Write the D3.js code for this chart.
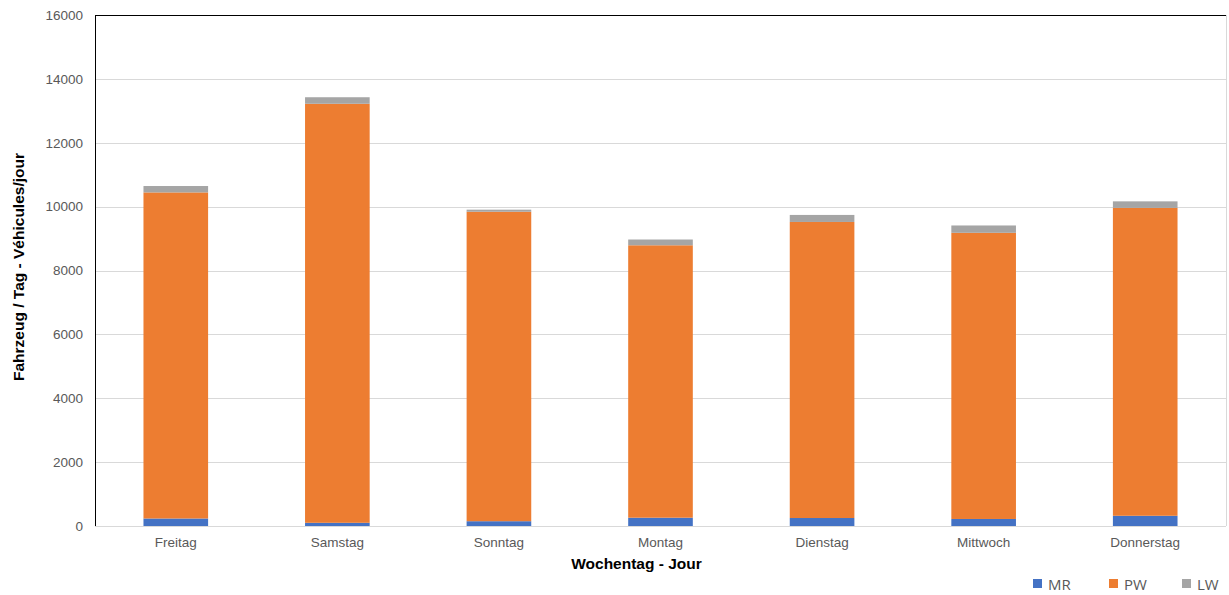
<!DOCTYPE html>
<html>
<head>
<meta charset="utf-8">
<script src="https://cdn.jsdelivr.net/npm/d3@7"></script>
<style>
  html, body { margin: 0; padding: 0; background: #fff; }
  svg { display: block; }
</style>
</head>
<body>
<svg id="chart" width="1229" height="595"></svg>
<script>
// Daily traffic by weekday, stacked by vehicle class
const days = ["Freitag", "Samstag", "Sonntag", "Montag", "Dienstag", "Mittwoch", "Donnerstag"];
const mr = [235, 100, 150, 260, 250, 220, 320];
const pw = [10210, 13120, 9690, 8530, 9270, 8960, 9640];
const lw = [200, 205, 65, 180, 220, 230, 205];
const seriesNames = ["MR", "PW", "LW"];
const yTicks = [0, 2000, 4000, 6000, 8000, 10000, 12000, 14000, 16000];

const colors = { MR: "#4472C4", PW: "#ED7D31", LW: "#A5A5A5" };

const rows = days.map((d, i) => ({ day: d, MR: mr[i], PW: pw[i], LW: lw[i] }));
const stacked = d3.stack().keys(seriesNames)(rows);

const svg = d3.select("#chart");
const m = { left: 95, right: 1226, top: 15, bottom: 526 };

const x = d3.scaleBand().domain(days).range([m.left, m.right]).paddingInner(0.6).paddingOuter(0.3);
const y = d3.scaleLinear().domain([0, 16000]).range([m.bottom, m.top]);

// horizontal gridlines
svg.append("g")
  .selectAll("line")
  .data(yTicks.filter(t => t > 0))
  .join("line")
  .attr("x1", m.left).attr("x2", m.right)
  .attr("y1", d => Math.round(y(d)) + 0.5).attr("y2", d => Math.round(y(d)) + 0.5)
  .attr("stroke", "#d9d9d9").attr("stroke-width", 1);

// stacked bars
svg.append("g")
  .selectAll("g")
  .data(stacked)
  .join("g")
  .attr("fill", s => colors[s.key])
  .selectAll("rect")
  .data(s => s)
  .join("rect")
  .attr("x", d => x(d.data.day))
  .attr("width", x.bandwidth())
  .attr("y", d => y(d[1]))
  .attr("height", d => y(d[0]) - y(d[1]));

// plot frame
svg.append("line").attr("x1", m.left).attr("x2", m.right).attr("y1", m.bottom + 0.5).attr("y2", m.bottom + 0.5)
  .attr("stroke", "#d9d9d9");
svg.append("line").attr("x1", m.right + 0.5).attr("x2", m.right + 0.5).attr("y1", m.top).attr("y2", m.bottom)
  .attr("stroke", "#d9d9d9");
svg.append("line").attr("x1", m.left).attr("x2", m.right).attr("y1", m.top + 0.5).attr("y2", m.top + 0.5)
  .attr("stroke", "#000");
svg.append("line").attr("x1", m.left + 0.5).attr("x2", m.left + 0.5).attr("y1", m.top).attr("y2", m.bottom)
  .attr("stroke", "#000");

// y axis labels
const yAxis = d3.axisLeft(y).tickValues(yTicks).tickSize(0).tickPadding(12).tickFormat(d3.format("d"));
const gy = svg.append("g").attr("transform", `translate(${m.left},0)`).call(yAxis);
gy.select(".domain").remove();
gy.selectAll("text").attr("fill", "#595959").style("font-family", "Liberation Sans, Arial, sans-serif").style("font-size", "13.5px");

// x axis labels
const xAxis = d3.axisBottom(x).tickSize(0).tickPadding(11);
const gx = svg.append("g").attr("transform", `translate(0,${m.bottom})`).call(xAxis);
gx.select(".domain").remove();
gx.selectAll("text").attr("fill", "#595959").style("font-family", "Liberation Sans, Arial, sans-serif").style("font-size", "13.5px");

// axis titles
svg.append("text")
  .attr("x", (m.left + m.right) / 2 - 24).attr("y", 569)
  .attr("text-anchor", "middle")
  .style("font-family", "Liberation Sans, Arial, sans-serif").style("font-size", "15.5px").style("font-weight", "bold")
  .attr("fill", "#000")
  .text("Wochentag - Jour");

svg.append("text")
  .attr("transform", `translate(24,267) rotate(-90)`)
  .attr("text-anchor", "middle")
  .style("font-family", "Liberation Sans, Arial, sans-serif").style("font-size", "15.5px").style("font-weight", "bold")
  .attr("fill", "#000")
  .text("Fahrzeug / Tag - Véhicules/jour");

// legend
const legendX = [1033, 1109, 1182];
const lg = svg.append("g").selectAll("g").data(seriesNames).join("g")
  .attr("transform", (d, i) => `translate(${legendX[i]},579)`);
lg.append("rect").attr("width", 9).attr("height", 9).attr("fill", d => colors[d]);
lg.append("text").attr("x", 15).attr("y", 10.5)
  .style("font-family", "Open Sans, sans-serif").style("font-size", "15px")
  .attr("fill", "#595959")
  .text(d => d);
</script>
</body>
</html>
